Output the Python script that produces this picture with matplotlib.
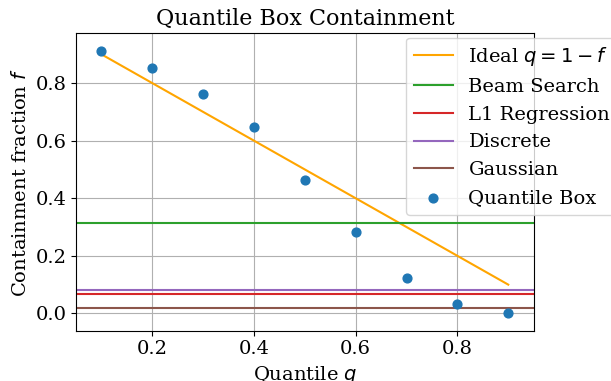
import matplotlib
matplotlib.use("Agg")
import matplotlib.pyplot as plt
import numpy as np

plt.rcParams['font.family'] = 'serif'
plt.rcParams['font.serif'] = ['DejaVu Serif']

q_values = [0.1, 0.2, 0.3, 0.4, 0.5, 0.6, 0.7, 0.8, 0.9]
quantile_box = [0.911, 0.852, 0.761, 0.647, 0.463, 0.282, 0.123, 0.032, 0.0]
ideal = [1 - q for q in q_values]
baseline_names = ["Beam Search", "L1 Regression", "Discrete", "Gaussian"]
baseline_values = [0.3125, 0.068, 0.081, 0.019]
baseline_colors = ["tab:green", "tab:red", "tab:purple", "tab:brown"]

fig = plt.figure(figsize=(6.11, 3.81), dpi=100)
ax = fig.add_axes([76/611, 1-330.7/381, (533.7-76)/611, (330.7-33.3)/381])

ax.plot(q_values, ideal, color="orange", label=r"Ideal $q=1-f$", linewidth=1.5)
for name, val, col in zip(baseline_names, baseline_values, baseline_colors):
    ax.axhline(val, color=col, label=name, linewidth=1.5)
ax.scatter(q_values, quantile_box, color="tab:blue", s=40, zorder=3, label="Quantile Box")

ax.set_xlim(0.05, 0.95)
ax.set_ylim(-0.06, 0.973)
ax.set_xticks([0.2, 0.4, 0.6, 0.8])
ax.set_yticks([0.0, 0.2, 0.4, 0.6, 0.8])
ax.tick_params(labelsize=14)
ax.grid(True)
ax.set_title("Quantile Box Containment", fontsize=16)
ax.set_xlabel(r"Quantile $q$", fontsize=14)
ax.set_ylabel(r"Containment fraction $f$", fontsize=14)

ax.legend(loc="upper right", bbox_to_anchor=(618/611, 1-37.5/381),
          bbox_transform=fig.transFigure, borderaxespad=0, fontsize=14)

fig.savefig("out.png", dpi=100)
